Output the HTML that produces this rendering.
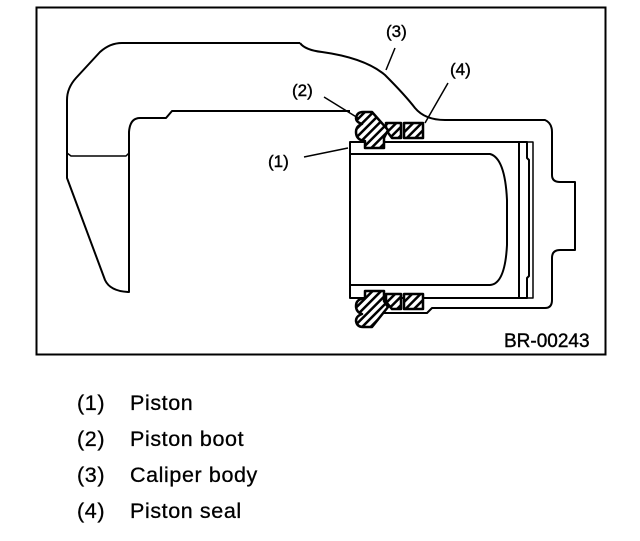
<!DOCTYPE html>
<html><head><style>
body{margin:0;background:#fff;width:640px;height:536px;overflow:hidden;font-family:"Liberation Sans",Arial,sans-serif}
</style></head><body>
<svg width="640" height="536" viewBox="0 0 640 536" xmlns="http://www.w3.org/2000/svg">
<defs>
<pattern id="h" width="6" height="6" patternUnits="userSpaceOnUse" patternTransform="rotate(45)">
<rect width="6" height="6" fill="#fff"/><rect width="2.5" height="6" fill="#000"/></pattern>
</defs>
<rect x="36.5" y="7.5" width="569" height="347" fill="none" stroke="#000" stroke-width="2"/>
<g fill="none" stroke="#000" stroke-width="2" stroke-linejoin="round">
<path d="M300,43 L122,43 Q110,43 100,52 L76,78 Q67,88 67,100 L67,178 L105,280 Q110,291 128,292 L129,292 L129,132 Q130,118 140,118 L166,118 L172,111 L350,111"/>
<path d="M300,43 Q305,50 322,52 Q365,58 385,75 Q405,95 415,108 Q425,120 445,120 L545,120 Q552,123 552,132 L552,175 Q552,182 560,182 L575,182 L575,250 L560,250 Q552,250 552,258 L552,300 Q552,308 545,308 L432,308 L427,313 L380,313"/>
<path d="M67,153 L71,156 L126,156 L129,153" stroke-width="1.5"/>
<path d="M350,142 L519,142 L519,298 L350,298 Z"/>
<path d="M350,154 L490,154 Q505,158 507,200 L507,245 Q505,284 490,285 L350,285"/>
<path d="M519,142 L527,142 L527,158 L529,160 L529,276 L527,278 L527,298 L519,298"/>
<path d="M527,142 L533,142 L533,298 L527,298" stroke-width="1.5"/>
</g>
<g stroke="#000" stroke-width="2.5" fill="url(#h)" stroke-linejoin="round">
<rect x="404" y="123" width="19" height="15"/>
<path d="M386,123 L401,123 L401,138 L392,138 L386,130 Z"/>
<path d="M363,112 L372,112 L388,130 L384,138 L384,148 L365,148 L365,141 Q356,140 356,132 Q356,126 362,124 Q356,122 356,118 Q357,112 363,112 Z"/>
<rect x="404" y="294" width="19" height="15"/>
<path d="M386,294 L401,294 L401,309 L392,309 L386,302 Z"/>
<path d="M365,291 L384,291 L384,301 L388,307 L372,327 L363,327 Q357,327 356,321 Q356,316 362,314 Q356,312 356,306 Q356,299 365,298 Z"/>
</g>
<g stroke="#000" stroke-width="1.5">
<line x1="395" y1="48" x2="386" y2="70"/>
<line x1="448" y1="83" x2="425" y2="123"/>
<line x1="324" y1="97" x2="358" y2="118"/>
<line x1="304" y1="157" x2="348" y2="148"/>
</g>
<g font-size="17" fill="#000" stroke="#000" stroke-width="0.4">
<text x="386" y="37">(3)</text>
<text x="450" y="75">(4)</text>
<text x="292" y="96">(2)</text>
<text x="268" y="167">(1)</text>
<text x="504" y="347" font-size="19">BR-00243</text>
</g>
<g font-size="21.5" fill="#000" stroke="#000" stroke-width="0.3" letter-spacing="0.6">
<text x="77" y="410">(1)</text><text x="130" y="410">Piston</text>
<text x="77" y="446">(2)</text><text x="130" y="446">Piston boot</text>
<text x="77" y="482">(3)</text><text x="130" y="482">Caliper body</text>
<text x="77" y="518">(4)</text><text x="130" y="518">Piston seal</text>
</g>
</svg>
</body></html>
